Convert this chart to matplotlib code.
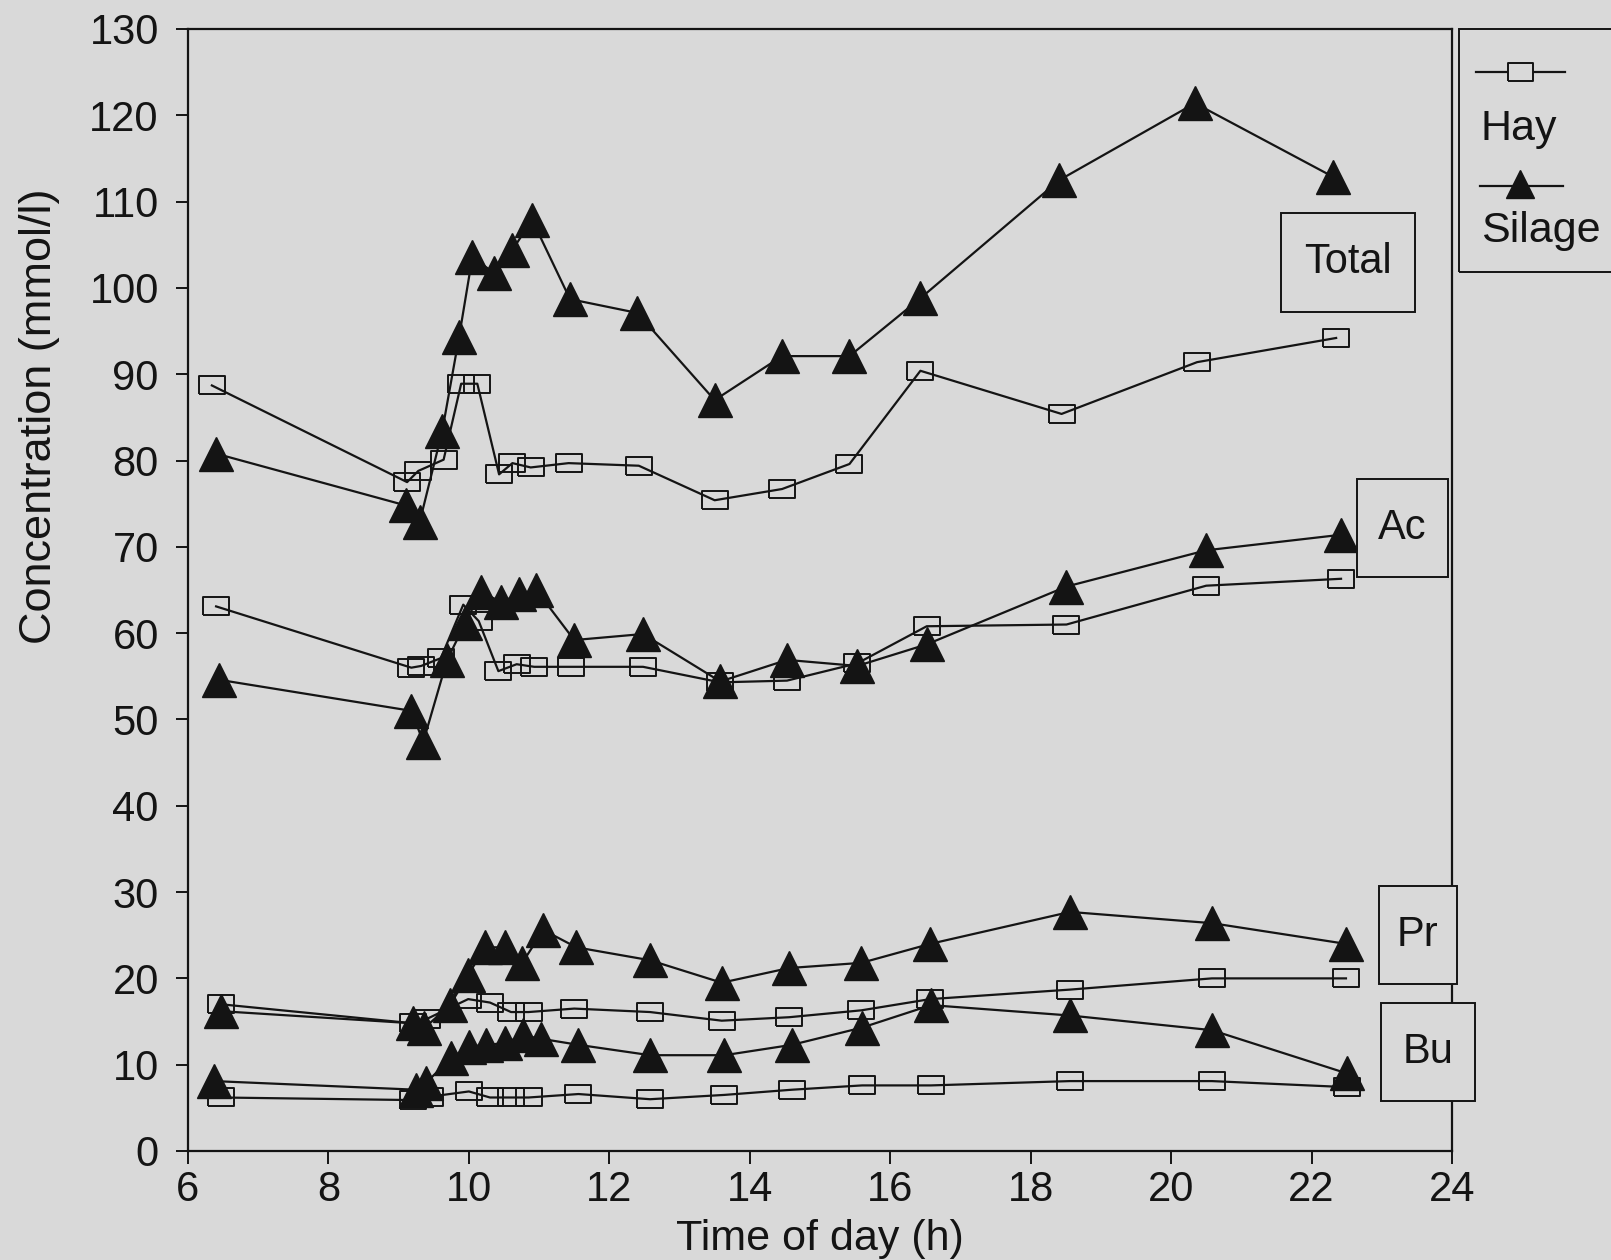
import matplotlib
matplotlib.use("Agg")
import matplotlib.pyplot as plt
from matplotlib.patches import Rectangle
from matplotlib.lines import Line2D

# ---------------- data ----------------
total_silage_x = [6.40, 9.10, 9.30, 9.62, 9.86, 10.05, 10.36, 10.62, 10.90, 11.44, 12.40, 13.50, 14.46, 15.42, 16.43, 18.41, 20.34, 22.30]
total_silage_y = [80.8, 74.8, 72.9, 83.4, 94.3, 103.6, 101.7, 104.4, 107.9, 98.7, 97.1, 87.0, 92.1, 92.1, 98.8, 112.5, 121.4, 112.9]

total_hay_x = [6.34, 9.12, 9.28, 9.64, 9.89, 10.12, 10.43, 10.62, 10.88, 11.42, 12.42, 13.50, 14.46, 15.42, 16.43, 18.44, 20.37, 22.35]
total_hay_y = [88.7, 77.5, 78.8, 80.1, 88.9, 88.9, 78.4, 79.7, 79.2, 79.7, 79.4, 75.4, 76.7, 79.6, 90.4, 85.4, 91.4, 94.2]

ac_silage_x = [6.44, 9.18, 9.35, 9.69, 9.95, 10.17, 10.46, 10.71, 10.96, 11.50, 12.48, 13.58, 14.53, 15.53, 16.52, 18.51, 20.50, 22.42]
ac_silage_y = [54.6, 51.0, 47.4, 56.9, 61.2, 64.8, 63.6, 64.5, 65.0, 59.2, 59.9, 54.4, 56.9, 56.2, 58.7, 65.4, 69.6, 71.4]

ac_hay_x = [6.40, 9.18, 9.32, 9.60, 9.92, 10.14, 10.42, 10.68, 10.93, 11.46, 12.48, 13.58, 14.53, 15.53, 16.52, 18.51, 20.50, 22.42]
ac_hay_y = [63.1, 56.0, 56.2, 57.1, 63.3, 61.4, 55.6, 56.4, 56.1, 56.1, 56.1, 54.3, 54.5, 56.5, 60.8, 61.0, 65.5, 66.3]

pr_silage_x = [6.47, 9.20, 9.36, 9.73, 9.99, 10.23, 10.51, 10.76, 11.06, 11.53, 12.58, 13.60, 14.56, 15.59, 16.57, 18.56, 20.58, 22.49]
pr_silage_y = [16.2, 14.8, 14.2, 16.9, 20.4, 23.6, 23.6, 21.8, 25.6, 23.6, 22.1, 19.5, 21.2, 21.8, 24.0, 27.7, 26.4, 24.0]

pr_hay_x = [6.47, 9.20, 9.40, 9.99, 10.30, 10.60, 10.85, 11.50, 12.58, 13.60, 14.56, 15.59, 16.57, 18.56, 20.58, 22.49]
pr_hay_y = [17.0, 14.8, 15.3, 17.6, 17.2, 16.1, 16.1, 16.5, 16.1, 15.1, 15.5, 16.3, 17.6, 18.7, 20.0, 20.0]

bu_silage_x = [6.37, 9.25, 9.39, 9.75, 10.00, 10.25, 10.51, 10.77, 11.03, 11.56, 12.58, 13.64, 14.60, 15.60, 16.58, 18.56, 20.58, 22.50]
bu_silage_y = [8.1, 7.1, 7.9, 10.8, 12.1, 12.3, 12.5, 13.4, 13.0, 12.3, 11.1, 11.1, 12.3, 14.3, 16.9, 15.7, 14.0, 9.0]

bu_hay_x = [6.47, 9.20, 9.45, 10.00, 10.30, 10.60, 10.85, 11.56, 12.58, 13.64, 14.60, 15.60, 16.58, 18.56, 20.58, 22.50]
bu_hay_y = [6.2, 5.9, 6.3, 6.9, 6.2, 6.2, 6.2, 6.6, 6.0, 6.5, 7.1, 7.6, 7.6, 8.1, 8.1, 7.4]

x_ticks = [6, 8, 10, 12, 14, 16, 18, 20, 22, 24]
y_ticks = [0, 10, 20, 30, 40, 50, 60, 70, 80, 90, 100, 110, 120, 130]
group_labels = ["Total", "Ac", "Pr", "Bu"]
legend_labels = ["Hay", "Silage"]

# ---------------- style ----------------
BG = "#d9d9d9"
INK = "#141414"
plt.rcParams["font.family"] = ["Liberation Sans", "DejaVu Sans"]

W, H = 1611, 1260
fig = plt.figure(figsize=(W / 100, H / 100), dpi=100, facecolor=BG)
left_px, right_px, top_px, bottom_px = 188, 1452, 29, 1151
ax = fig.add_axes([left_px / W, 1 - bottom_px / H, (right_px - left_px) / W, (bottom_px - top_px) / H])
ax.set_facecolor(BG)

rect_marker = [(-1.4, -1), (1.4, -1), (1.4, 1), (-1.4, 1), (-1.4, -1)]

hay_kw = dict(color=INK, lw=1.6, marker=rect_marker, ms=19, mfc="none", mec=INK, mew=1.4, zorder=3)
sil_kw = dict(color=INK, lw=1.6, marker="^", ms=24.5, mfc=INK, mec=INK, zorder=4)

for xs, ys in [(total_hay_x, total_hay_y), (ac_hay_x, ac_hay_y), (pr_hay_x, pr_hay_y), (bu_hay_x, bu_hay_y)]:
    ax.plot(xs, ys, **hay_kw)
for xs, ys in [(total_silage_x, total_silage_y), (ac_silage_x, ac_silage_y), (pr_silage_x, pr_silage_y), (bu_silage_x, bu_silage_y)]:
    ax.plot(xs, ys, **sil_kw)

ax.set_xlim(6, 24)
ax.set_ylim(0, 130)
ax.set_xticks(x_ticks)
ax.set_yticks(y_ticks)
ax.tick_params(axis="both", direction="out", length=9, width=1.4, colors=INK, labelsize=30)
ax.tick_params(axis="y", pad=12)
ax.tick_params(axis="x", pad=5)
for s in ax.spines.values():
    s.set_linewidth(1.6)
    s.set_color(INK)

ax.set_xlabel("Time of day (h)", fontsize=31, color=INK, labelpad=6)
ax.set_ylabel("Concentration (mmol/l)", fontsize=32.5, color=INK)
ax.yaxis.set_label_coords(-0.101, 0.655)

# group label boxes (axes fraction: x0, x1, y0, y1)
boxes = [(0.865, 0.971, 0.748, 0.836), (0.925, 0.997, 0.512, 0.599),
         (0.942, 1.004, 0.149, 0.236), (0.944, 1.018, 0.045, 0.132)]
for lab, (x0, x1, y0, y1) in zip(group_labels, boxes):
    ax.add_patch(Rectangle((x0, y0), x1 - x0, y1 - y0, transform=ax.transAxes,
                           fill=True, fc=BG, ec=INK, lw=1.4, clip_on=False, zorder=5))
    ax.text((x0 + x1) / 2, (y0 + y1) / 2, lab, transform=ax.transAxes, ha="center", va="center",
            fontsize=30, color=INK, zorder=6, clip_on=False)

# legend drawn manually (label below sample)
def fx(px):
    return px / W
def fy(py):
    return 1 - py / H

fig.add_artist(Rectangle((fx(1459), fy(272)), fx(1630) - fx(1459), fy(29) - fy(272),
                         transform=fig.transFigure, fill=False, ec=INK, lw=1.4))
fig.add_artist(Line2D([fx(1476), fx(1565)], [fy(72), fy(72)], transform=fig.transFigure,
                      color=INK, lw=1.6))
fig.add_artist(Line2D([fx(1520)], [fy(72)], transform=fig.transFigure, marker=rect_marker,
                      ms=18, mfc=BG, mec=INK, mew=1.4, lw=0))
fig.text(fx(1481), fy(140), legend_labels[0], fontsize=31, color=INK, ha="left", va="baseline")
fig.add_artist(Line2D([fx(1480), fx(1563)], [fy(186), fy(186)], transform=fig.transFigure,
                      color=INK, lw=1.6))
fig.add_artist(Line2D([fx(1520)], [fy(184)], transform=fig.transFigure, marker="^",
                      ms=20, mfc=INK, mec=INK, lw=0))
fig.text(fx(1481), fy(242), legend_labels[1], fontsize=31, color=INK, ha="left", va="baseline")

fig.savefig("out.png", dpi=100, facecolor=BG)
